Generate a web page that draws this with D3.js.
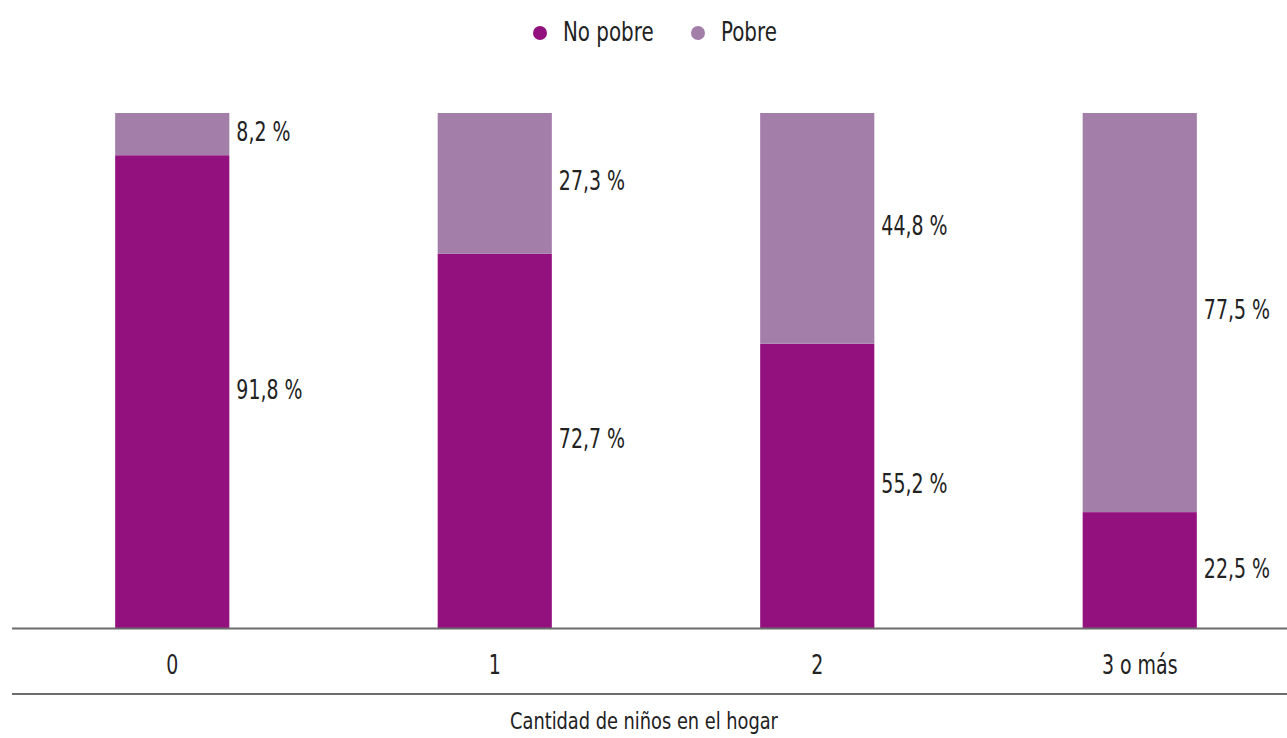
<!DOCTYPE html>
<html><head><meta charset="utf-8">
<script src="https://cdn.jsdelivr.net/npm/d3@7"></script>
<style>body{margin:0;background:#fff}svg{display:block}text{font-family:"Liberation Sans Narrow","DejaVu Sans Condensed",sans-serif;fill:#222}</style>
</head><body><div id="c"></div>
<script>
const categories = ["0","1","2","3 o más"];
const noPobre = [91.8, 72.7, 55.2, 22.5];
const pobre = [8.2, 27.3, 44.8, 77.5];
const seriesNames = ["No pobre","Pobre"];
const colors = ["#93117e","#a37ea9"];
const axisTitle = "Cantidad de niños en el hogar";

const W = 1287, H = 738;
const svg = d3.select("#c").append("svg").attr("width", W).attr("height", H);
const x = d3.scaleBand().domain(categories).range([11, 1301]).paddingInner(0.646).paddingOuter(0.323);
const y = d3.scaleLinear().domain([0, 100]).range([628, 113]);
const fmt = v => v.toFixed(1).replace(".", ",") + " %";

function addText(parent, tx, ty, str, size, sx, anchor) {
  return parent.append("text")
    .attr("transform", `translate(${tx},${ty}) scale(${sx},1)`)
    .attr("dy", "0.35em").attr("font-size", size)
    .attr("text-anchor", anchor || "start").text(str);
}

const data = categories.map((c, i) => ({c, np: noPobre[i], p: pobre[i]}));
const g = svg.append("g");
data.forEach(d => {
  g.append("rect").attr("x", x(d.c)).attr("width", x.bandwidth())
    .attr("y", y(d.np)).attr("height", y(0) - y(d.np)).attr("fill", colors[0]);
  g.append("rect").attr("x", x(d.c)).attr("width", x.bandwidth())
    .attr("y", y(d.np + d.p)).attr("height", y(d.np) - y(d.np + d.p)).attr("fill", colors[1]);
  addText(g, x(d.c) + x.bandwidth() + 7, y(d.np / 2) - 2, fmt(d.np), 27, 0.78);
  addText(g, x(d.c) + x.bandwidth() + 7, y(d.np + d.p / 2) - 3, fmt(d.p), 27, 0.78);
});

// axis lines
svg.append("line").attr("x1", 12).attr("x2", W).attr("y1", 628.5).attr("y2", 628.5)
  .attr("stroke", "#6b6b6b").attr("stroke-width", 2);
svg.append("line").attr("x1", 12).attr("x2", W).attr("y1", 694).attr("y2", 694)
  .attr("stroke", "#6b6b6b").attr("stroke-width", 2);

const xAxis = svg.append("g").attr("transform", "translate(0,628)")
  .call(d3.axisBottom(x).tickSize(0).tickPadding(0));
xAxis.select(".domain").remove();
xAxis.selectAll("text").attr("y", null).attr("dy", null)
  .attr("transform", `translate(0,37) scale(0.78,1)`)
  .attr("dominant-baseline", "central")
  .attr("font-size", 27).style("fill", "#222")
  .style("font-family", '"Liberation Sans Narrow","DejaVu Sans Condensed",sans-serif');

addText(svg, 644, 721, axisTitle, 23, 0.86, "middle");

// legend
const legX = [540, 698];
seriesNames.forEach((n, i) => {
  svg.append("circle").attr("cx", legX[i]).attr("cy", 33).attr("r", 7).attr("fill", colors[i]);
  addText(svg, legX[i] + 23, 32, n, 26, 0.85);
});
</script></body></html>
